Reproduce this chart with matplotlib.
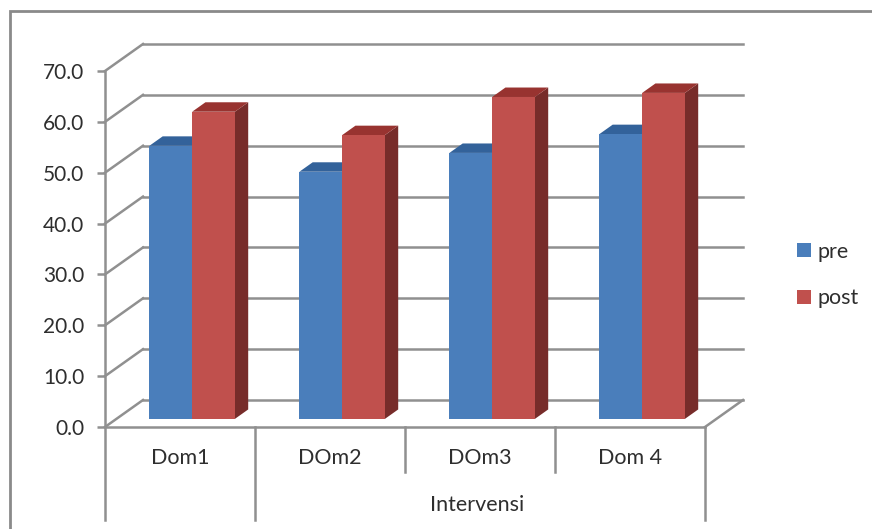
#!/usr/bin/env python3
"""
Clustered bar chart with an oblique 3D look: pre and post scores per domain.
"""

import matplotlib
matplotlib.use("Agg")
import matplotlib.pyplot as plt
from matplotlib.patches import Patch, Polygon, Rectangle

categories = ["Dom1", "DOm2", "DOm3", "Dom 4"]
group_label = "Intervensi"
series_names = ["pre", "post"]
pre_values = [53.7, 48.6, 52.3, 56.0]
post_values = [60.4, 55.8, 63.3, 64.1]
y_ticks = [0, 10, 20, 30, 40, 50, 60, 70]

WIDTH, HEIGHT = 872, 529
GREY = "#909090"
TEXT = "#2e2e2e"
LINE_W = 1.8

# pixels per unit on each axis, and where the origin sits
PX_X, PX_Y = 150.0, 356.0 / 70.0
X0, Y0 = 105.0, 427.0

# how far the full floor depth shifts things, in data units
DEPTH_X = 38.0 / PX_X
DEPTH_Y = 27.0 / PX_Y

# bar placement inside a category slot and inside the floor depth
BAR_START, BAR_WIDTH = 0.22, 0.285
BAR_NEAR, BAR_FAR = 0.30, 0.65

FRONT = {"pre": "#4a7ebb", "post": "#c0504d"}
TOP = {"pre": "#33629a", "post": "#983330"}
SIDE = {"pre": "#2c4d75", "post": "#772c2a"}

plt.rcParams["font.family"] = ["Lato", "DejaVu Sans"]


def shift(x, y, depth):
    """Move a point on the front plane back by a fraction of the floor depth."""
    return (x + depth * DEPTH_X, y + depth * DEPTH_Y)


def draw_bar(ax, left, value, name):
    right = left + BAR_WIDTH
    front = [shift(left, 0, BAR_NEAR), shift(right, 0, BAR_NEAR),
             shift(right, value, BAR_NEAR), shift(left, value, BAR_NEAR)]
    side = [shift(right, 0, BAR_NEAR), shift(right, 0, BAR_FAR),
            shift(right, value, BAR_FAR), shift(right, value, BAR_NEAR)]
    top = [shift(left, value, BAR_NEAR), shift(right, value, BAR_NEAR),
           shift(right, value, BAR_FAR), shift(left, value, BAR_FAR)]
    ax.add_patch(Polygon(side, facecolor=SIDE[name], edgecolor="none", zorder=3))
    ax.add_patch(Polygon(top, facecolor=TOP[name], edgecolor="none", zorder=3))
    ax.add_patch(Polygon(front, facecolor=FRONT[name], edgecolor="none", zorder=3))


fig = plt.figure(figsize=(WIDTH / 100, HEIGHT / 100), dpi=100)
ax = fig.add_axes([0, 0, 1, 1])
ax.set_xlim(-X0 / PX_X, (WIDTH - X0) / PX_X)
ax.set_ylim((Y0 - HEIGHT) / PX_Y, Y0 / PX_Y)
ax.patch.set_alpha(0)

# outer chart frame, runs off the right and bottom edges
fig.add_artist(Rectangle((10 / WIDTH, -0.05), 1.0, 1.05 - 11 / HEIGHT,
                         transform=fig.transFigure, fill=False,
                         edgecolor="#8a8a8a", linewidth=2))

# walls and floor
n = len(categories)
for tick in y_ticks:
    x_back, y_back = shift(0, tick, 1)
    ax.plot([0, x_back], [tick, y_back], color=GREY, lw=LINE_W, zorder=1)
    ax.plot([x_back, x_back + n], [y_back, y_back], color=GREY, lw=LINE_W, zorder=1)
x_back, y_back = shift(n, 0, 1)
ax.plot([n, x_back], [0, y_back], color=GREY, lw=LINE_W, zorder=1)

# bars, left to right so the post bar covers the side of the pre bar
for i in range(n):
    draw_bar(ax, i + BAR_START, pre_values[i], "pre")
    draw_bar(ax, i + BAR_START + BAR_WIDTH, post_values[i], "post")

# value axis and category axis
for name in ["top", "right"]:
    ax.spines[name].set_visible(False)
ax.spines["left"].set_position(("data", 0))
ax.spines["left"].set_bounds(-18.3, 70)
ax.spines["bottom"].set_position(("data", 0))
ax.spines["bottom"].set_bounds(0, n)
for name in ["left", "bottom"]:
    ax.spines[name].set_color(GREY)
    ax.spines[name].set_linewidth(LINE_W)
ax.set_xticks([])
ax.set_yticks(y_ticks)
ax.set_yticklabels([f"{t:.1f}" for t in y_ticks], fontsize=15, color=TEXT)
ax.tick_params(axis="y", direction="out", length=6, width=LINE_W, color=GREY, pad=9)

# separators of the two level category axis
ax.plot([1, 1], [0, -18.3], color=GREY, lw=LINE_W, zorder=1)
ax.plot([2, 2], [0, -8.8], color=GREY, lw=LINE_W, zorder=1)
ax.plot([3, 3], [0, -8.8], color=GREY, lw=LINE_W, zorder=1)
ax.plot([n, n], [0, -18.3], color=GREY, lw=LINE_W, zorder=1)

for i, label in enumerate(categories):
    ax.text(i + 0.5, -6.1, label, ha="center", va="center", fontsize=15.5, color=TEXT)
ax.text(2.48, -15.4, group_label, ha="center", va="center", fontsize=15.5, color=TEXT)

handles = [Patch(facecolor=FRONT[name], edgecolor="none") for name in series_names]
ax.legend(handles, series_names, loc="center left",
          bbox_to_anchor=(797 / WIDTH, 1 - 275 / HEIGHT), frameon=False,
          fontsize=15.5, labelcolor=TEXT, borderpad=0, borderaxespad=0,
          handlelength=0.67, handleheight=0.67, handletextpad=0.3, labelspacing=1.25)

fig.savefig("out.png", dpi=100)
